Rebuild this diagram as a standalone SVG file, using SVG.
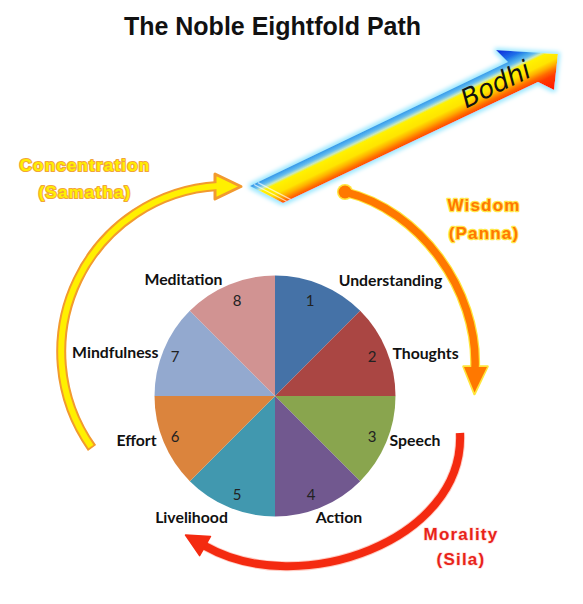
<svg xmlns="http://www.w3.org/2000/svg" width="583" height="604" viewBox="0 0 583 604">
<style>
.lbl{font-family:Lato,"Open Sans","Liberation Sans",sans-serif;font-weight:700;font-size:15.8px;fill:#111;text-anchor:middle}
.num{font-family:Lato,"Open Sans","Liberation Sans",sans-serif;font-weight:400;font-size:15px;fill:#222;text-anchor:middle}
.cat{font-family:"Liberation Sans",Arial,sans-serif;font-weight:700;font-size:17px;letter-spacing:1.2px;text-anchor:middle;paint-order:stroke;stroke-linejoin:round}
.conc{fill:#FFF000;stroke:#F2A33A;stroke-width:2.2px}
.wis{fill:#FF7800;stroke:#FFE84A;stroke-width:2.4px}
.mor{fill:#E8231A;stroke:#FFE2DC;stroke-width:1.5px}
.title{font-family:"Liberation Sans",Arial,sans-serif;font-weight:700;font-size:25px;fill:#111;text-anchor:middle}
</style>
<defs>
<linearGradient id="bodhiGrad" gradientUnits="userSpaceOnUse" x1="501" y1="47.6" x2="527.1" y2="101.6">
<stop offset="0" stop-color="#0A1FD8"/>
<stop offset="0.2" stop-color="#1E6FE8"/>
<stop offset="0.27" stop-color="#3A9EEA"/>
<stop offset="0.33" stop-color="#64BCEF"/>
<stop offset="0.38" stop-color="#C8E8C0"/>
<stop offset="0.42" stop-color="#FFF200"/>
<stop offset="0.56" stop-color="#FFE400"/>
<stop offset="0.64" stop-color="#FFB000"/>
<stop offset="0.72" stop-color="#FF6A00"/>
<stop offset="0.8" stop-color="#FF3A00"/>
<stop offset="1" stop-color="#FF1A00"/>
</linearGradient>
<filter id="cyanGlow" x="-10%" y="-20%" width="120%" height="140%">
<feMorphology in="SourceAlpha" operator="dilate" radius="2" result="d"/>
<feGaussianBlur in="d" stdDeviation="2.2" result="b"/>
<feFlood flood-color="#9BE8FF"/>
<feComposite in2="b" operator="in" result="g"/>
<feMerge><feMergeNode in="g"/><feMergeNode in="SourceGraphic"/></feMerge>
</filter>
<filter id="soft" x="-20%" y="-20%" width="140%" height="140%">
<feGaussianBlur stdDeviation="0.7"/>
</filter>
<clipPath id="bodhiClip">
<polygon points="250,186 508,62 496,50 558,54 554,90 538,82 283,203"/>
</clipPath>
</defs>

<rect width="583" height="604" fill="#FFFFFF"/>

<g id="title">
<text class="title" x="272.5" y="35">The Noble Eightfold Path</text>
</g>

<g id="pie">
<g id="slice1"><path d="M275,396 L275,275.5 A120.5,120.5 0 0 1 360.2,310.8 Z" fill="#4572A7"/><text class="num" x="310" y="306">1</text><text class="lbl" x="390.5" y="286">Understanding</text></g>
<g id="slice2"><path d="M275,396 L360.2,310.8 A120.5,120.5 0 0 1 395.5,396 Z" fill="#AA4643"/><text class="num" x="372" y="362">2</text><text class="lbl" x="425.5" y="359">Thoughts</text></g>
<g id="slice3"><path d="M275,396 L395.5,396 A120.5,120.5 0 0 1 360.2,481.2 Z" fill="#89A54E"/><text class="num" x="372" y="442">3</text><text class="lbl" x="415" y="446">Speech</text></g>
<g id="slice4"><path d="M275,396 L360.2,481.2 A120.5,120.5 0 0 1 275,516.5 Z" fill="#71588F"/><text class="num" x="311" y="500">4</text><text class="lbl" x="339" y="523">Action</text></g>
<g id="slice5"><path d="M275,396 L275,516.5 A120.5,120.5 0 0 1 189.8,481.2 Z" fill="#4198AF"/><text class="num" x="237" y="500">5</text><text class="lbl" x="191.5" y="523">Livelihood</text></g>
<g id="slice6"><path d="M275,396 L189.8,481.2 A120.5,120.5 0 0 1 154.5,396 Z" fill="#DB843D"/><text class="num" x="175" y="442">6</text><text class="lbl" x="136.5" y="446">Effort</text></g>
<g id="slice7"><path d="M275,396 L154.5,396 A120.5,120.5 0 0 1 189.8,310.8 Z" fill="#93A9CF"/><text class="num" x="175" y="362">7</text><text class="lbl" x="115.3" y="358">Mindfulness</text></g>
<g id="slice8"><path d="M275,396 L189.8,310.8 A120.5,120.5 0 0 1 275,275.5 Z" fill="#D19392"/><text class="num" x="237" y="306">8</text><text class="lbl" x="183.5" y="285">Meditation</text></g>
</g>

<g id="connectors">
<g id="concentration-arrow">
<path d="M92,448 A166,166 0 0 1 218,186" fill="none" stroke="#F29A2E" stroke-width="10" filter="url(#soft)"/>
<polygon points="215,174 241,186.5 215,199" fill="#FFF000" stroke="#F29A2E" stroke-width="3" stroke-linejoin="round"/>
<path d="M91,446.6 A166,166 0 0 1 218,186 L224,186" fill="none" stroke="#FFF000" stroke-width="6"/>
</g>
<g id="wisdom-arrow">
<g filter="url(#soft)">
<path d="M345,192 C420,210 478,290 475,368" fill="none" stroke="#FFE53B" stroke-width="10"/>
<circle cx="345" cy="192" r="8" fill="#FFE53B"/>
<polygon points="463.5,366.5 487.5,366.5 474.5,394" fill="#FFE53B" stroke="#FFE53B" stroke-width="2.5" stroke-linejoin="round"/>
</g>
<path d="M345,192 C420,210 478,290 475,368 L475,374" fill="none" stroke="#FF7800" stroke-width="7.5"/>
<circle cx="345" cy="192" r="6.5" fill="#FF7800"/>
<polygon points="464,367 487,367 474.5,392.5" fill="#FF7800"/>
</g>
<g id="morality-arrow">
<path d="M460,433 C465,540 300,600 205,546" fill="none" stroke="#FF9A88" stroke-width="10" opacity="0.5" filter="url(#soft)"/>
<path d="M460,433 C465,540 300,600 205,546 L201,544" fill="none" stroke="#F42A10" stroke-width="8"/>
<polygon points="185.5,535 210.5,536.4 199.6,555.6" fill="#F42A10" stroke="#F42A10" stroke-width="1.5" stroke-linejoin="round"/>
</g>
</g>

<g id="bodhi">
<polygon points="250,186 508,62 496,50 558,54 554,90 538,82 283,203" fill="url(#bodhiGrad)" filter="url(#cyanGlow)"/>
<g clip-path="url(#bodhiClip)" stroke="#FFFFFF" stroke-width="1.2" opacity="0.65">
<line x1="254" y1="184.5" x2="287" y2="201.5"/>
<line x1="258" y1="182.6" x2="291" y2="199.6"/>
</g>
<text x="496" y="93" transform="rotate(-26 496 85)" font-family="'DejaVu Sans',sans-serif" font-style="italic" font-size="26" fill="#111" text-anchor="middle">Bodhi</text>
</g>

<g id="category-labels">
<g id="concentration"><text class="cat conc" x="85" y="171">Concentration</text><text class="cat conc" x="85" y="197.5">(Samatha)</text></g>
<g id="wisdom"><text class="cat wis" x="484" y="211">Wisdom</text><text class="cat wis" x="484" y="239">(Panna)</text></g>
<g id="morality"><text class="cat mor" x="461" y="540">Morality</text><text class="cat mor" x="461" y="565">(Sila)</text></g>
</g>
</svg>
